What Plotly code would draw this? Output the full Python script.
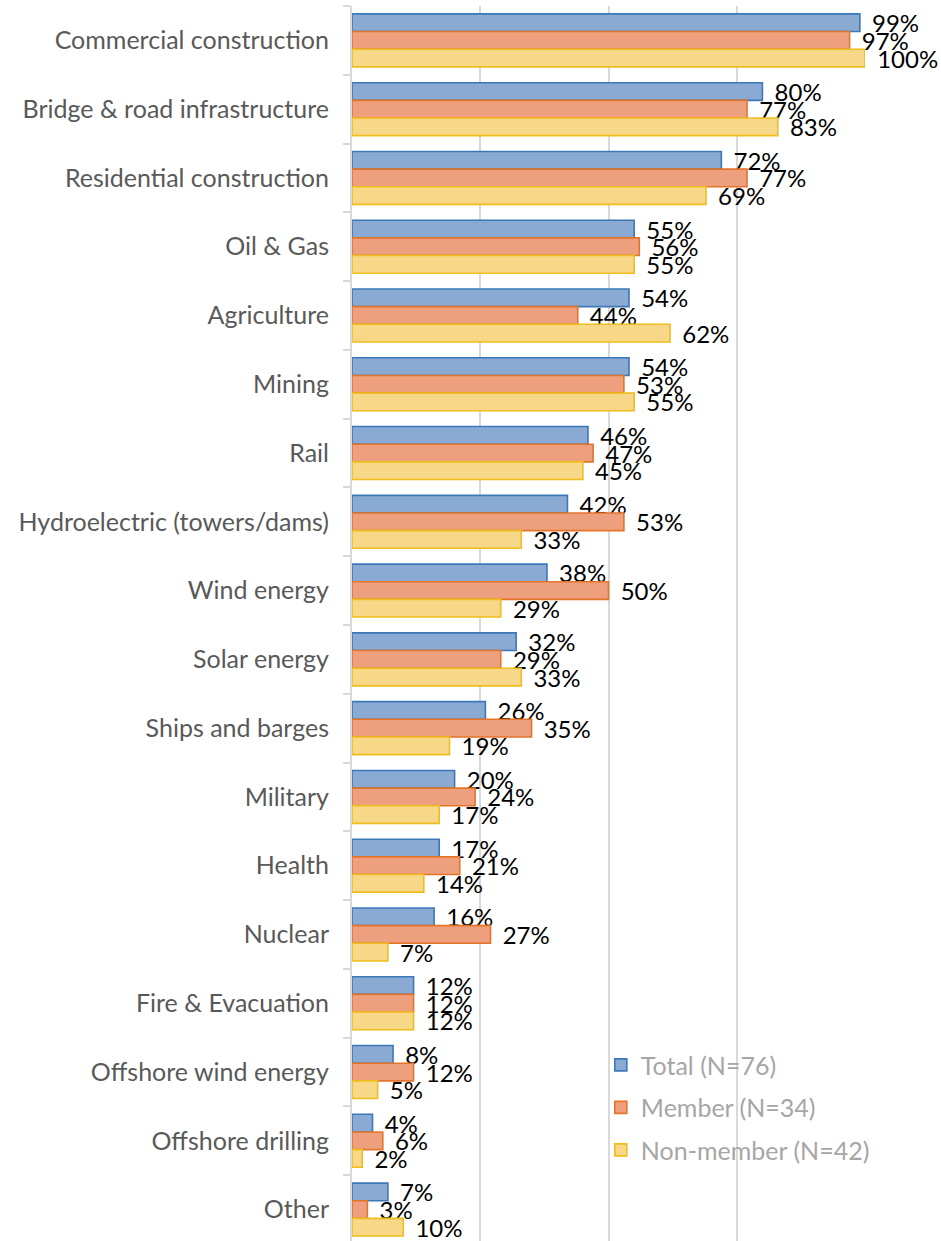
import plotly.graph_objects as go

categories = [
    "Commercial construction", "Bridge & road infrastructure", "Residential construction",
    "Oil & Gas", "Agriculture", "Mining", "Rail", "Hydroelectric (towers/dams)",
    "Wind energy", "Solar energy", "Ships and barges", "Military", "Health", "Nuclear",
    "Fire & Evacuation", "Offshore wind energy", "Offshore drilling", "Other",
]
total = [99, 80, 72, 55, 54, 54, 46, 42, 38, 32, 26, 20, 17, 16, 12, 8, 4, 7]
member = [97, 77, 77, 56, 44, 53, 47, 53, 50, 29, 35, 24, 21, 27, 12, 12, 6, 3]
nonmember = [100, 83, 69, 55, 62, 55, 45, 33, 29, 33, 19, 17, 14, 7, 12, 5, 2, 10]

series = [
    ("Total (N=76)", total, "#8aaad4", "#3b78b8"),
    ("Member (N=34)", member, "#eea07e", "#e4742a"),
    ("Non-member (N=42)", nonmember, "#f6d888", "#efbd1c"),
]

FONT = "Lato"
fig = go.Figure()
for i, (name, vals, fill, edge) in enumerate(series):
    fig.add_trace(go.Bar(
        y=categories, x=vals, orientation="h", name=name,
        legendgroup=name,
        marker=dict(color=fill, line=dict(color=edge, width=1.6)),
        text=[f"\u00a0\u2009{v}%" for v in vals],
        textposition="outside", cliponaxis=False, constraintext="none",
        textfont=dict(family=FONT, size=24, color="#000000"),
        hoverinfo="skip",
    ))

fig.update_layout(
    width=941, height=1241,
    margin=dict(l=352, r=76, t=6, b=0),
    barmode="group", bargap=0.23, bargroupgap=0,
    plot_bgcolor="white", paper_bgcolor="white",
    font=dict(family=FONT, size=25, color="#595959"),
    showlegend=True,
    legend=dict(
        x=0.485, y=0.161, xanchor="left", yanchor="top",
        traceorder="grouped", tracegroupgap=7,
        font=dict(family=FONT, size=25, color="#a6a6a6"),
        bgcolor="rgba(0,0,0,0)",
    ),
    xaxis=dict(
        range=[0, 100], showticklabels=False, showgrid=True,
        gridcolor="#d9d9d9", gridwidth=1.5, zeroline=False,
        tickvals=[0, 25, 50, 75, 100], showline=False,
    ),
    yaxis=dict(
        categoryorder="array", categoryarray=categories,
        range=[17.457, -0.5], autorange=False,
        showline=True, linecolor="#d9d9d9", linewidth=2,
        ticks="outside", tickson="boundaries", ticklen=7, tickcolor="#d9d9d9", tickwidth=1.5,
        ticklabelstandoff=16, showgrid=False,
        tickfont=dict(family=FONT, size=25, color="#595959"),
    ),
)

fig.write_html("out.html", config={"displayModeBar": False},
               post_script="document.body.style.margin='0';")
